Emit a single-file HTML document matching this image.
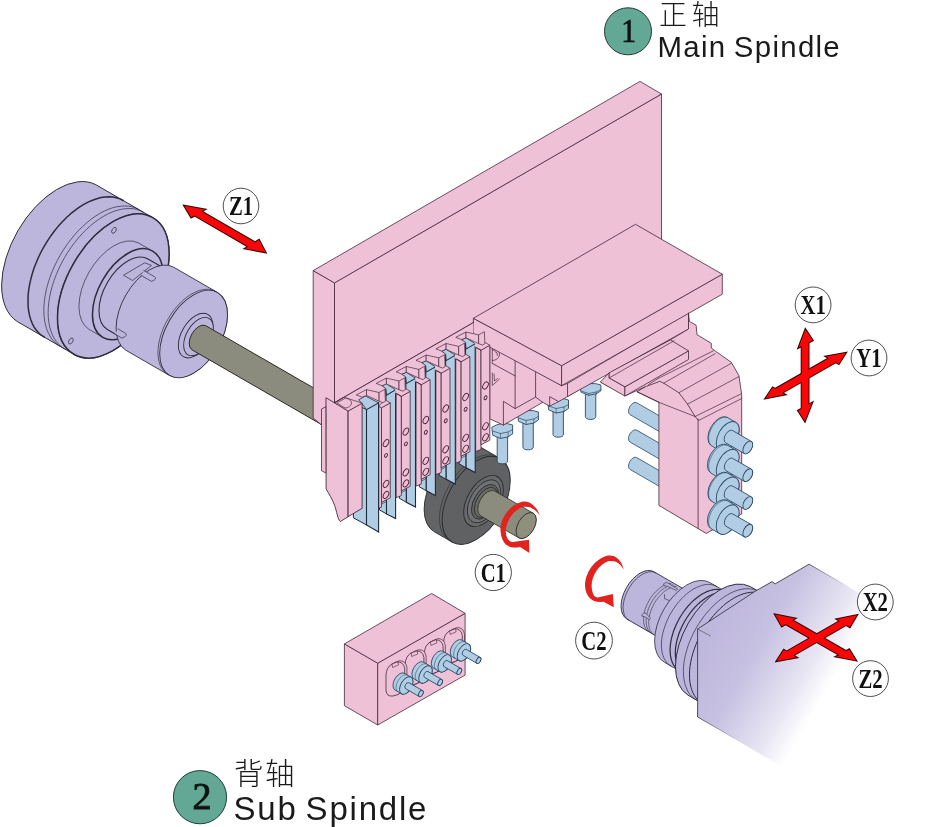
<!DOCTYPE html>
<html lang="zh">
<head>
<meta charset="utf-8">
<title>Main Spindle / Sub Spindle axis diagram</title>
<style>
html,body{margin:0;padding:0;background:#fff;}
body{width:946px;height:827px;overflow:hidden;position:relative;font-family:"Liberation Sans","Noto Sans CJK SC",sans-serif;}
svg{position:absolute;left:0;top:0;display:block;will-change:transform;}
.lbl{font-family:"Liberation Sans","Noto Sans CJK SC",sans-serif;fill:#1a1a1a;}
.cj{font-weight:300;}
.ax{font-family:"Liberation Serif","Noto Serif CJK SC",serif;font-weight:bold;fill:#111;}
.num{font-family:"Liberation Serif","Noto Serif CJK SC",serif;fill:#111;}
</style>
</head>
<body>
<svg width="946" height="827" viewBox="0 0 946 827">
<path d="M16.9 321.3 A78.9 45.6 120 0 1 95.8 184.7 L152.7 217.6 A78.9 45.6 120 0 1 73.8 354.2 Z" fill="#bdb6dc" stroke="#2e2b3d" stroke-width="1" stroke-linejoin="round" stroke-linecap="round" />
<ellipse cx="113.3" cy="285.9" rx="45.6" ry="78.9" transform="rotate(30 113.3 285.9)" fill="#bdb6dc" stroke="#2e2b3d" stroke-width="1" />
<path d="M44.3 337.2 L41.3 335.2 L38.6 332.8 L36.2 330 L34 326.8 L32.2 323.3 L30.7 319.4 L29.5 315.2 L28.6 310.7 L28.1 306 L28 301.1 L28.1 295.9 L28.6 290.6 L29.5 285.1 L30.7 279.6 L32.2 274 L34 268.3 L36.2 262.7 L38.6 257 L41.3 251.5 L44.3 246.1 L47.5 240.8 L51 235.7 L54.6 230.8 L58.4 226.1 L62.4 221.7 L66.5 217.5 L70.7 213.7 L75 210.3 L79.4 207.2 L83.8 204.4 L88.1 202.1 L92.5 200.2 L96.8 198.7 L101 197.6 L105.1 197 L109.1 196.8 L112.9 197.1 L116.5 197.8 L120 198.9 L123.2 200.5" fill="none" stroke="#2e2b3d" stroke-width="1.5" stroke-linejoin="round" stroke-linecap="round" />
<path d="M60.2 346.3 L57.2 344.3 L54.5 341.9 L52 339.1 L49.9 335.9 L48.1 332.4 L46.5 328.5 L45.4 324.4 L44.5 319.9 L44 315.2 L43.8 310.2 L44 305.1 L44.5 299.7 L45.4 294.3 L46.5 288.7 L48.1 283.1 L49.9 277.5 L52 271.8 L54.5 266.2 L57.2 260.7 L60.2 255.2 L63.4 249.9 L66.8 244.8 L70.5 239.9 L74.3 235.2 L78.3 230.8 L82.4 226.7 L86.6 222.9 L90.9 219.4 L95.2 216.3 L99.6 213.6 L104 211.2 L108.3 209.3 L112.6 207.8 L116.8 206.8 L121 206.2 L124.9 206 L128.8 206.2 L132.4 206.9 L135.8 208.1 L139.1 209.7" fill="none" stroke="#2e2b3d" stroke-width="0.7" stroke-linejoin="round" stroke-linecap="round" />
<path d="M64.5 348.8 L61.5 346.8 L58.8 344.4 L56.4 341.6 L54.2 338.4 L52.4 334.9 L50.9 331 L49.7 326.9 L48.8 322.4 L48.3 317.7 L48.1 312.7 L48.3 307.6 L48.8 302.2 L49.7 296.8 L50.9 291.2 L52.4 285.6 L54.2 280 L56.4 274.3 L58.8 268.7 L61.5 263.2 L64.5 257.7 L67.7 252.4 L71.1 247.3 L74.8 242.4 L78.6 237.7 L82.6 233.3 L86.7 229.2 L90.9 225.4 L95.2 221.9 L99.6 218.8 L103.9 216.1 L108.3 213.7 L112.7 211.8 L117 210.3 L121.2 209.3 L125.3 208.7 L129.3 208.5 L133.1 208.7 L136.7 209.4 L140.2 210.6 L143.4 212.2" fill="none" stroke="#2e2b3d" stroke-width="0.7" stroke-linejoin="round" stroke-linecap="round" />
<ellipse cx="113.3" cy="285.9" rx="45.6" ry="78.9" transform="rotate(30 113.3 285.9)" fill="#bdb6dc" stroke="#2e2b3d" stroke-width="1.5" />
<ellipse cx="114" cy="230.3" rx="1.9" ry="3.3" transform="rotate(30 114 230.3)" fill="#bdb6dc" stroke="#2e2b3d" stroke-width="0.7" />
<ellipse cx="70.9" cy="341" rx="1.9" ry="3.3" transform="rotate(30 70.9 341)" fill="#bdb6dc" stroke="#2e2b3d" stroke-width="0.7" />
<path d="M88.4 329 A49.8 28.8 120 0 1 138.2 242.8 L152.6 251.1 A49.8 28.8 120 0 1 102.8 337.3 Z" fill="#bdb6dc" stroke="#2e2b3d" stroke-width="0.7" stroke-linejoin="round" stroke-linecap="round" />
<ellipse cx="127.7" cy="294.2" rx="28.8" ry="49.8" transform="rotate(30 127.7 294.2)" fill="#bdb6dc" stroke="#2e2b3d" stroke-width="1.5" />
<path d="M107.4 329.4 A40.6 23.4 120 0 1 148 259 L169.6 271.5 A40.6 23.4 120 0 1 129 341.9 Z" fill="#bdb6dc" stroke="#2e2b3d" stroke-width="1.1" stroke-linejoin="round" stroke-linecap="round" />
<polygon points="123.5,275.2 144.7,262.8 151.5,265.4 132.6,280.5" fill="#bdb6dc" stroke="#2e2b3d" stroke-width="0.7" stroke-linejoin="miter" stroke-miterlimit="3" />
<path d="M125.5 350 A47.9 27.7 120 0 1 173.3 267 L217.5 292.5 A47.9 27.7 120 0 1 169.6 375.5 Z" fill="#bdb6dc" stroke="#2e2b3d" stroke-width="0.9" stroke-linejoin="round" stroke-linecap="round" />
<ellipse cx="193.6" cy="334" rx="27.7" ry="47.9" transform="rotate(30 193.6 334)" fill="#bdb6dc" stroke="#2e2b3d" stroke-width="0.9" />
<path d="M143.9 270.6 L154.3 276.6 Q158.1 278.8 151.5 281.4 L141.1 275.4" fill="#bdb6dc" stroke="#2e2b3d" stroke-width="0.7" stroke-linejoin="round" stroke-linecap="round" />
<path d="M118 328.9 L124.9 332.9 Q129.1 335.3 121.9 338.1 L115 334.1" fill="#bdb6dc" stroke="#2e2b3d" stroke-width="0.7" stroke-linejoin="round" stroke-linecap="round" />
<path d="M167.9 374.5 L166.1 373.3 L164.4 371.8 L163 370.1 L161.7 368.2 L160.5 366 L159.6 363.7 L158.9 361.1 L158.4 358.4 L158.1 355.6 L158 352.6 L158.1 349.4 L158.4 346.2 L158.9 342.9 L159.6 339.5 L160.5 336.1 L161.7 332.7 L163 329.2 L164.4 325.8 L166.1 322.5 L167.9 319.2 L169.8 316 L171.9 312.9 L174.1 309.9 L176.5 307 L178.9 304.4 L181.4 301.8 L183.9 299.5 L186.5 297.4 L189.2 295.5 L191.8 293.9 L194.5 292.5 L197.1 291.3 L199.7 290.4 L202.3 289.8 L204.8 289.4 L207.2 289.3 L209.5 289.4 L211.7 289.9 L213.8 290.6 L215.8 291.5" fill="none" stroke="#2e2b3d" stroke-width="0.7" stroke-linejoin="round" stroke-linecap="round" />
<ellipse cx="195.6" cy="335.6" rx="14.1" ry="24.4" transform="rotate(30 195.6 335.6)" fill="#bdb6dc" stroke="#2e2b3d" stroke-width="0.9" />
<ellipse cx="198.5" cy="336.6" rx="12.1" ry="21" transform="rotate(30 198.5 336.6)" fill="#bdb6dc" stroke="#2e2b3d" stroke-width="0.9" />
<path d="M191.4 349.4 A13.9 8 120 0 1 205.2 325.4 L335.2 400.4 A13.9 8 120 0 1 321.3 424.4 Z" fill="#8c8c7e" stroke="#2a2a22" stroke-width="1.0" stroke-linejoin="round" stroke-linecap="round" />
<polygon points="313.2,270.6 334.5,282.9 334.5,403 321,424.5 313.2,418" fill="#efc1d7" stroke="#45283a" stroke-width="0.8" stroke-linejoin="miter" stroke-miterlimit="3" />
<polygon points="334.5,282.9 661.5,94 661.5,240 490,340 490,313 334.5,402.7" fill="#efc1d7" stroke="#45283a" stroke-width="0.8" stroke-linejoin="miter" stroke-miterlimit="3" />
<polygon points="313.2,270.6 640,81.4 661.5,94 334.5,282.9" fill="#efc1d7" stroke="#45283a" stroke-width="0.8" stroke-linejoin="miter" stroke-miterlimit="3" />
<path d="M434 531.6 A48.2 27.8 120 0 1 482.2 448.1 L500.3 458.6 A48.2 27.8 120 0 1 452.1 542 Z" fill="#636466" stroke="#2a2a2c" stroke-width="0.9" stroke-linejoin="round" stroke-linecap="round" />
<ellipse cx="476.2" cy="500.3" rx="27.8" ry="48.2" transform="rotate(30 476.2 500.3)" fill="#606163" stroke="#2a2a2c" stroke-width="0.9" />
<path d="M445.7 537.5 L444.4 535.9 L443.2 534.2 L442.2 532.3 L441.4 530.2 L440.7 528 L440.1 525.6 L439.8 523.1 L439.6 520.5 L439.5 517.8 L439.6 515 L439.9 512.1 L440.4 509.1 L441 506.1 L441.8 503.1 L442.7 500 L443.8 496.9 L445 493.9 L446.4 490.8 L447.9 487.8 L449.5 484.9 L451.2 482 L453.1 479.2 L455 476.5 L457.1 473.9 L459.2 471.4 L461.4 469.1 L463.6 466.9 L465.9 464.9 L468.3 463 L470.6 461.3 L473 459.8 L475.4 458.5 L477.8 457.3 L480.1 456.4 L482.4 455.7 L484.7 455.2 L486.9 454.9 L489.1 454.8 L491.2 454.9 L493.2 455.3" fill="none" stroke="#2a2a2a" stroke-width="0.6" stroke-linejoin="round" stroke-linecap="round" />
<ellipse cx="483.5" cy="501" rx="16.2" ry="28" transform="rotate(30 483.5 501)" fill="#68696b" stroke="#2a2a2c" stroke-width="0.9" />
<ellipse cx="484" cy="501.3" rx="13.6" ry="23.5" transform="rotate(30 484 501.3)" fill="#707173" stroke="#2a2a2c" stroke-width="0.8" />
<ellipse cx="485" cy="501.8" rx="11" ry="19" transform="rotate(30 485 501.8)" fill="#636466" stroke="#2a2a2c" stroke-width="0.8" />
<ellipse cx="486" cy="502.4" rx="9.5" ry="16.5" transform="rotate(30 486 502.4)" fill="#6a6a66" stroke="#2a2a2c" stroke-width="0.8" />
<path d="M480.4 515.7 A14.3 8.3 120 0 1 494.6 490.9 L533.4 513.3 A14.3 8.3 120 0 1 519.1 538 Z" fill="#8c8c7e" stroke="#2a2a22" stroke-width="0.8" stroke-linejoin="round" stroke-linecap="round" />
<ellipse cx="526.2" cy="525.6" rx="8.3" ry="14.3" transform="rotate(30 526.2 525.6)" fill="#8f8f7e" stroke="#2a2a22" stroke-width="0.8" />
<path d="M497.2 436.4 L497.2 460.8 Q497.2 463.8 502.4 463.8 Q507.6 463.8 507.6 460.8 L507.6 436.4 Z" fill="#b0cde3" stroke="#2b4a66" stroke-width="0.9" stroke-linejoin="round" stroke-linecap="round" />
<path d="M492.1 427 Q502.4 421 512.6 425 L512.6 433.9 L508.1 436.9 L500.4 438.4 L493.1 435.4 Z" fill="#b0cde3" stroke="#2b4a66" stroke-width="0.9" stroke-linejoin="round" stroke-linecap="round" />
<polyline points="492.6,431 500.4,433.5 508.1,432 512.6,429.5" fill="none" stroke="#2b4a66" stroke-width="0.7" stroke-linejoin="round" stroke-linecap="round" />
<polyline points="500.4,433.5 500.4,438.4" fill="none" stroke="#2b4a66" stroke-width="0.6" stroke-linejoin="round" stroke-linecap="round" />
<polyline points="508.1,432 508.1,436.9" fill="none" stroke="#2b4a66" stroke-width="0.6" stroke-linejoin="round" stroke-linecap="round" />
<path d="M522.9 422.5 L522.9 446.8 Q522.9 449.8 528.1 449.8 Q533.3 449.8 533.3 446.8 L533.3 422.5 Z" fill="#b0cde3" stroke="#2b4a66" stroke-width="0.9" stroke-linejoin="round" stroke-linecap="round" />
<path d="M517.9 414 Q528.1 408 538.4 412 L538.4 420 L533.9 423 L526.1 424.5 L518.9 421.5 Z" fill="#b0cde3" stroke="#2b4a66" stroke-width="0.9" stroke-linejoin="round" stroke-linecap="round" />
<polyline points="518.4,418 526.1,420.5 533.9,419 538.4,416.5" fill="none" stroke="#2b4a66" stroke-width="0.7" stroke-linejoin="round" stroke-linecap="round" />
<polyline points="526.1,420.5 526.1,424.5" fill="none" stroke="#2b4a66" stroke-width="0.6" stroke-linejoin="round" stroke-linecap="round" />
<polyline points="533.9,419 533.9,423" fill="none" stroke="#2b4a66" stroke-width="0.6" stroke-linejoin="round" stroke-linecap="round" />
<path d="M553 411 L553 434.2 Q553 437.2 558.2 437.2 Q563.4 437.2 563.4 434.2 L563.4 411 Z" fill="#b0cde3" stroke="#2b4a66" stroke-width="0.9" stroke-linejoin="round" stroke-linecap="round" />
<path d="M548 402 Q558.2 396 568.5 400 L568.5 408.5 L564 411.5 L556.2 413 L549 410 Z" fill="#b0cde3" stroke="#2b4a66" stroke-width="0.9" stroke-linejoin="round" stroke-linecap="round" />
<polyline points="548.5,406 556.2,408.5 564,407 568.5,404.5" fill="none" stroke="#2b4a66" stroke-width="0.7" stroke-linejoin="round" stroke-linecap="round" />
<polyline points="556.2,408.5 556.2,413" fill="none" stroke="#2b4a66" stroke-width="0.6" stroke-linejoin="round" stroke-linecap="round" />
<polyline points="564,407 564,411.5" fill="none" stroke="#2b4a66" stroke-width="0.6" stroke-linejoin="round" stroke-linecap="round" />
<path d="M585.4 393.3 L585.4 416.4 Q585.4 419.4 590.6 419.4 Q595.8 419.4 595.8 416.4 L595.8 393.3 Z" fill="#b0cde3" stroke="#2b4a66" stroke-width="0.9" stroke-linejoin="round" stroke-linecap="round" />
<path d="M580.4 387 Q590.6 381 600.9 385 L600.9 390.8 L596.4 393.8 L588.6 395.3 L581.4 392.3 Z" fill="#b0cde3" stroke="#2b4a66" stroke-width="0.9" stroke-linejoin="round" stroke-linecap="round" />
<polyline points="580.9,391 588.6,393.5 596.4,392 600.9,389.5" fill="none" stroke="#2b4a66" stroke-width="0.7" stroke-linejoin="round" stroke-linecap="round" />
<polyline points="588.6,393.5 588.6,395.3" fill="none" stroke="#2b4a66" stroke-width="0.6" stroke-linejoin="round" stroke-linecap="round" />
<polyline points="596.4,392 596.4,393.8" fill="none" stroke="#2b4a66" stroke-width="0.6" stroke-linejoin="round" stroke-linecap="round" />
<polygon points="489.7,345.1 561.6,385.6 568.1,383.2 580.1,378 580.1,389 567.5,396.6 558.6,401.6 549.7,406.1 542.7,402.3 503.4,425.1 489.7,418.8" fill="#efc1d7" stroke="#45283a" stroke-width="0.8" stroke-linejoin="miter" stroke-miterlimit="3" />
<polyline points="515.1,359.4 515.1,408.6" fill="none" stroke="#45283a" stroke-width="0.8" stroke-linejoin="round" stroke-linecap="round" />
<polyline points="492.1,363.3 515.1,375.9" fill="none" stroke="#45283a" stroke-width="0.8" stroke-linejoin="round" stroke-linecap="round" />
<polyline points="503.4,425.1 503.4,401.3 515.1,408.6 535.6,397.1 535.6,371.1" fill="none" stroke="#45283a" stroke-width="0.8" stroke-linejoin="round" stroke-linecap="round" />
<polyline points="535.6,397.1 542.7,402.3" fill="none" stroke="#45283a" stroke-width="0.8" stroke-linejoin="round" stroke-linecap="round" />
<polyline points="549.7,406.1 549.7,396.6 558.6,401.6" fill="none" stroke="#45283a" stroke-width="0.8" stroke-linejoin="round" stroke-linecap="round" />
<path d="M492.3 348 L492.3 362.5 M492.3 350 Q500 349 499.5 355 Q498.5 360 492.6 360.5 M495 351.5 Q498 352 497.5 355.5" fill="none" stroke="#45283a" stroke-width="0.7" stroke-linejoin="round" stroke-linecap="round" />
<path d="M492.3 373 L492.3 385.5 L499.5 379 M494 374 L494.5 381 L497.5 378.5" fill="none" stroke="#45283a" stroke-width="0.7" stroke-linejoin="round" stroke-linecap="round" />
<polygon points="567.5,383.4 688.5,312.8 688.5,329 567.5,396.6" fill="#efc1d7" stroke="#45283a" stroke-width="0.8" stroke-linejoin="miter" stroke-miterlimit="3" />
<polygon points="473.4,318.3 561.6,365.7 561.6,385.7 473.4,338.3" fill="#efc1d7" stroke="#45283a" stroke-width="0.8" stroke-linejoin="miter" stroke-miterlimit="3" />
<polygon points="561.6,365.7 722.3,274.2 722.3,294.2 561.6,385.7" fill="#efc1d7" stroke="#45283a" stroke-width="0.8" stroke-linejoin="miter" stroke-miterlimit="3" />
<polygon points="473.4,318.3 635.5,224.3 722.3,274.2 561.6,365.7" fill="#efc1d7" stroke="#45283a" stroke-width="0.8" stroke-linejoin="miter" stroke-miterlimit="3" />
<path d="M629.8 414.5 A6.8 3.9 120 0 1 636.6 402.7 L671.2 422.7 A6.8 3.9 120 0 1 664.4 434.5 Z" fill="#b0cde3" stroke="#2b4a66" stroke-width="0.8" stroke-linejoin="round" stroke-linecap="round" />
<path d="M629.8 441.9 A6.8 3.9 120 0 1 636.6 430.1 L671.2 450.1 A6.8 3.9 120 0 1 664.4 461.9 Z" fill="#b0cde3" stroke="#2b4a66" stroke-width="0.8" stroke-linejoin="round" stroke-linecap="round" />
<path d="M629.8 469.3 A6.8 3.9 120 0 1 636.6 457.5 L671.2 477.5 A6.8 3.9 120 0 1 664.4 489.3 Z" fill="#b0cde3" stroke="#2b4a66" stroke-width="0.8" stroke-linejoin="round" stroke-linecap="round" />
<polygon points="688.5,312.8 689.4,321.4 696.1,325.2 697,334.7 711.3,343.3 711.3,348 715.1,350.9 731.3,362.3 738.9,375.6 741.7,394.7 741.7,514 706.2,533.4 658.9,505.4 658.9,402.3 637.1,391.8 644.7,387 625.7,395.6 600.9,382.3 612,372 670.4,339.9 688.5,329" fill="#efc1d7" stroke="#45283a" stroke-width="0.8" stroke-linejoin="miter" stroke-miterlimit="3" />
<polygon points="600.3,382 609.2,372.8 609.2,377.9 624.9,386.8 624.9,396.1" fill="#efc1d7" stroke="#45283a" stroke-width="0.8" stroke-linejoin="miter" stroke-miterlimit="3" />
<polygon points="624.9,386.8 688.5,350.9 688.5,359.5 624.9,396.1" fill="#efc1d7" stroke="#45283a" stroke-width="0.8" stroke-linejoin="miter" stroke-miterlimit="3" />
<polygon points="609.2,372.8 670.4,339.9 688.5,350.9 624.9,386.8 609.2,377.9" fill="#efc1d7" stroke="#45283a" stroke-width="0.8" stroke-linejoin="miter" stroke-miterlimit="3" />
<polyline points="609.2,377.9 674,340.8" fill="none" stroke="#45283a" stroke-width="0.7" stroke-linejoin="round" stroke-linecap="round" />
<polyline points="658,378.5 713.2,350.9" fill="none" stroke="#45283a" stroke-width="0.7" stroke-linejoin="round" stroke-linecap="round" />
<polyline points="663.7,383.2 715.1,353.7" fill="none" stroke="#45283a" stroke-width="0.7" stroke-linejoin="round" stroke-linecap="round" />
<polyline points="678.9,392.7 731.3,363.3" fill="none" stroke="#45283a" stroke-width="0.7" stroke-linejoin="round" stroke-linecap="round" />
<polyline points="687.5,404.2 738.9,376.6" fill="none" stroke="#45283a" stroke-width="0.7" stroke-linejoin="round" stroke-linecap="round" />
<polyline points="695.1,416.5 741.4,393.7" fill="none" stroke="#45283a" stroke-width="0.7" stroke-linejoin="round" stroke-linecap="round" />
<polyline points="698.9,420.3 741.7,398.5" fill="none" stroke="#45283a" stroke-width="0.7" stroke-linejoin="round" stroke-linecap="round" />
<polyline points="637.1,391.8 658.9,402.3" fill="none" stroke="#45283a" stroke-width="0.8" stroke-linejoin="round" stroke-linecap="round" />
<polyline points="644.7,387 659.9,381.3 663.7,383.2 678.9,392.7 687.5,404.2 695.1,416.5 698.1,420" fill="none" stroke="#45283a" stroke-width="0.8" stroke-linejoin="round" stroke-linecap="round" />
<polyline points="658.9,402.3 695.1,416.5" fill="none" stroke="#45283a" stroke-width="0.7" stroke-linejoin="round" stroke-linecap="round" />
<polyline points="648.5,384.6 658,378.5" fill="none" stroke="#45283a" stroke-width="0.7" stroke-linejoin="round" stroke-linecap="round" />
<polyline points="698.1,419 698.1,528.5" fill="none" stroke="#45283a" stroke-width="0.8" stroke-linejoin="round" stroke-linecap="round" />
<path d="M710.7 445.2 A16.2 9.4 120 0 1 726.9 417.2 L735.8 422.3 A16.2 9.4 120 0 1 719.6 450.4 Z" fill="#b0cde3" stroke="#2b4a66" stroke-width="0.9" stroke-linejoin="round" stroke-linecap="round" />
<ellipse cx="727.7" cy="436.3" rx="9.4" ry="16.2" transform="rotate(30 727.7 436.3)" fill="#b0cde3" stroke="#2b4a66" stroke-width="0.9" />
<path d="M710.7 445 L710.3 444.4 L709.9 443.8 L709.6 443.2 L709.3 442.5 L709 441.8 L708.9 441 L708.7 440.1 L708.7 439.2 L708.6 438.3 L708.7 437.4 L708.8 436.4 L708.9 435.4 L709.1 434.4 L709.4 433.4 L709.7 432.4 L710.1 431.3 L710.5 430.3 L711 429.3 L711.5 428.3 L712 427.3 L712.6 426.3 L713.2 425.4 L713.9 424.5 L714.5 423.6 L715.3 422.8 L716 422 L716.7 421.2 L717.5 420.5 L718.3 419.9 L719.1 419.3 L719.9 418.8 L720.7 418.4 L721.5 418 L722.3 417.7 L723.1 417.5 L723.8 417.3 L724.6 417.2 L725.3 417.2 L726 417.2 L726.7 417.3" fill="none" stroke="#2b4a66" stroke-width="0.6" stroke-linejoin="round" stroke-linecap="round" />
<path d="M725.5 442.7 A7 4 120 0 1 732.5 430.5 L751.3 441.4 A7 4 120 0 1 744.3 453.5 Z" fill="#b0cde3" stroke="#2b4a66" stroke-width="0.9" stroke-linejoin="round" stroke-linecap="round" />
<ellipse cx="747.8" cy="447.5" rx="4" ry="7" transform="rotate(30 747.8 447.5)" fill="#b0cde3" stroke="#2b4a66" stroke-width="0.9" />
<path d="M710.7 473 A16.2 9.4 120 0 1 726.9 444.9 L735.8 450.1 A16.2 9.4 120 0 1 719.6 478.1 Z" fill="#b0cde3" stroke="#2b4a66" stroke-width="0.9" stroke-linejoin="round" stroke-linecap="round" />
<ellipse cx="727.7" cy="464.1" rx="9.4" ry="16.2" transform="rotate(30 727.7 464.1)" fill="#b0cde3" stroke="#2b4a66" stroke-width="0.9" />
<path d="M710.7 472.7 L710.3 472.2 L709.9 471.6 L709.6 471 L709.3 470.3 L709 469.5 L708.9 468.7 L708.7 467.9 L708.7 467 L708.6 466.1 L708.7 465.1 L708.8 464.2 L708.9 463.2 L709.1 462.2 L709.4 461.1 L709.7 460.1 L710.1 459.1 L710.5 458 L711 457 L711.5 456 L712 455 L712.6 454.1 L713.2 453.1 L713.9 452.2 L714.5 451.3 L715.3 450.5 L716 449.7 L716.7 449 L717.5 448.3 L718.3 447.7 L719.1 447.1 L719.9 446.6 L720.7 446.1 L721.5 445.8 L722.3 445.5 L723.1 445.2 L723.8 445 L724.6 444.9 L725.3 444.9 L726 445 L726.7 445.1" fill="none" stroke="#2b4a66" stroke-width="0.6" stroke-linejoin="round" stroke-linecap="round" />
<path d="M725.5 470.4 A7 4 120 0 1 732.5 458.3 L751.3 469.1 A7 4 120 0 1 744.3 481.3 Z" fill="#b0cde3" stroke="#2b4a66" stroke-width="0.9" stroke-linejoin="round" stroke-linecap="round" />
<ellipse cx="747.8" cy="475.2" rx="4" ry="7" transform="rotate(30 747.8 475.2)" fill="#b0cde3" stroke="#2b4a66" stroke-width="0.9" />
<path d="M710.7 500.7 A16.2 9.4 120 0 1 726.9 472.7 L735.8 477.8 A16.2 9.4 120 0 1 719.6 505.9 Z" fill="#b0cde3" stroke="#2b4a66" stroke-width="0.9" stroke-linejoin="round" stroke-linecap="round" />
<ellipse cx="727.7" cy="491.8" rx="9.4" ry="16.2" transform="rotate(30 727.7 491.8)" fill="#b0cde3" stroke="#2b4a66" stroke-width="0.9" />
<path d="M710.7 500.5 L710.3 499.9 L709.9 499.3 L709.6 498.7 L709.3 498 L709 497.3 L708.9 496.5 L708.7 495.6 L708.7 494.7 L708.6 493.8 L708.7 492.9 L708.8 491.9 L708.9 490.9 L709.1 489.9 L709.4 488.9 L709.7 487.9 L710.1 486.8 L710.5 485.8 L711 484.8 L711.5 483.8 L712 482.8 L712.6 481.8 L713.2 480.9 L713.9 480 L714.5 479.1 L715.3 478.3 L716 477.5 L716.7 476.7 L717.5 476 L718.3 475.4 L719.1 474.8 L719.9 474.3 L720.7 473.9 L721.5 473.5 L722.3 473.2 L723.1 473 L723.8 472.8 L724.6 472.7 L725.3 472.7 L726 472.7 L726.7 472.8" fill="none" stroke="#2b4a66" stroke-width="0.6" stroke-linejoin="round" stroke-linecap="round" />
<path d="M725.5 498.2 A7 4 120 0 1 732.5 486 L751.3 496.9 A7 4 120 0 1 744.3 509 Z" fill="#b0cde3" stroke="#2b4a66" stroke-width="0.9" stroke-linejoin="round" stroke-linecap="round" />
<ellipse cx="747.8" cy="503" rx="4" ry="7" transform="rotate(30 747.8 503)" fill="#b0cde3" stroke="#2b4a66" stroke-width="0.9" />
<path d="M710.7 528.5 A16.2 9.4 120 0 1 726.9 500.4 L735.8 505.6 A16.2 9.4 120 0 1 719.6 533.6 Z" fill="#b0cde3" stroke="#2b4a66" stroke-width="0.9" stroke-linejoin="round" stroke-linecap="round" />
<ellipse cx="727.7" cy="519.6" rx="9.4" ry="16.2" transform="rotate(30 727.7 519.6)" fill="#b0cde3" stroke="#2b4a66" stroke-width="0.9" />
<path d="M710.7 528.2 L710.3 527.7 L709.9 527.1 L709.6 526.5 L709.3 525.8 L709 525 L708.9 524.2 L708.7 523.4 L708.7 522.5 L708.6 521.6 L708.7 520.6 L708.8 519.7 L708.9 518.7 L709.1 517.7 L709.4 516.6 L709.7 515.6 L710.1 514.6 L710.5 513.5 L711 512.5 L711.5 511.5 L712 510.5 L712.6 509.6 L713.2 508.6 L713.9 507.7 L714.5 506.8 L715.3 506 L716 505.2 L716.7 504.5 L717.5 503.8 L718.3 503.2 L719.1 502.6 L719.9 502.1 L720.7 501.6 L721.5 501.3 L722.3 501 L723.1 500.7 L723.8 500.5 L724.6 500.4 L725.3 500.4 L726 500.5 L726.7 500.6" fill="none" stroke="#2b4a66" stroke-width="0.6" stroke-linejoin="round" stroke-linecap="round" />
<path d="M725.5 525.9 A7 4 120 0 1 732.5 513.8 L751.3 524.6 A7 4 120 0 1 744.3 536.8 Z" fill="#b0cde3" stroke="#2b4a66" stroke-width="0.9" stroke-linejoin="round" stroke-linecap="round" />
<ellipse cx="747.8" cy="530.7" rx="4" ry="7" transform="rotate(30 747.8 530.7)" fill="#b0cde3" stroke="#2b4a66" stroke-width="0.9" />
<polygon points="334.5,402.7 473.4,322.6 473.4,345 366,415 348.1,411" fill="#efc1d7" stroke="none" stroke-width="0.8" stroke-linejoin="miter" stroke-miterlimit="3" />
<polygon points="475.7,347.2 481,350.2 481,449.5 475.7,451.6" fill="#efc1d7" stroke="#45283a" stroke-width="0.8" stroke-linejoin="miter" stroke-miterlimit="3" />
<polygon points="481,350.2 489.8,345.2 489.8,440.2 481,444.8" fill="#efc1d7" stroke="#45283a" stroke-width="0.8" stroke-linejoin="miter" stroke-miterlimit="3" />
<polygon points="475.7,347.2 481,350.2 489.8,345.2 484.5,342.2" fill="#efc1d7" stroke="#45283a" stroke-width="0.7" stroke-linejoin="miter" stroke-miterlimit="3" />
<ellipse cx="485.5" cy="385.5" rx="2.3" ry="3.9" transform="rotate(30 485.5 385.5)" fill="#efc1d7" stroke="#4a1f35" stroke-width="0.9"/>
<ellipse cx="485.5" cy="397.8" rx="1.3" ry="2.1" transform="rotate(30 485.5 397.8)" fill="#efc1d7" stroke="#4a1f35" stroke-width="0.9"/>
<ellipse cx="485.5" cy="426.3" rx="2.3" ry="3.9" transform="rotate(30 485.5 426.3)" fill="#efc1d7" stroke="#4a1f35" stroke-width="0.9"/>
<ellipse cx="485.5" cy="437.3" rx="2.3" ry="3.9" transform="rotate(30 485.5 437.3)" fill="#efc1d7" stroke="#4a1f35" stroke-width="0.9"/>
<polygon points="459.1,432 466.1,436 466.1,467.8 459.1,463.8" fill="#b0cde3" stroke="#1c2c3c" stroke-width="1.0" stroke-linejoin="miter" stroke-miterlimit="3" />
<polygon points="465.5,342.5 466.1,348.9 475.2,343.6 475.2,472.5 466.1,467.8" fill="#b0cde3" stroke="#1c2c3c" stroke-width="1.1" stroke-linejoin="miter" stroke-miterlimit="3" />
<polygon points="461.6,339.7 466,337.8 475.2,343.6 466.1,348.9 465.5,342.5" fill="#b0cde3" stroke="#1c2c3c" stroke-width="0.8" stroke-linejoin="miter" stroke-miterlimit="3" />
<polyline points="461.1,456.2 466.1,453.3" fill="none" stroke="#1c2c3c" stroke-width="0.6" stroke-linejoin="round" stroke-linecap="round" />
<polyline points="461.1,458.2 466.1,455.3" fill="none" stroke="#1c2c3c" stroke-width="0.6" stroke-linejoin="round" stroke-linecap="round" />
<polygon points="474.8,343 478.6,343.2 482.5,345.1 476,347.5 474.8,347" fill="#efc1d7" stroke="none" stroke-width="0.8" stroke-linejoin="miter" stroke-miterlimit="3" />
<polyline points="475.7,347.2 481,350.2" fill="none" stroke="#45283a" stroke-width="0.7" stroke-linejoin="round" stroke-linecap="round" />
<polygon points="455.8,337.3 466,332 466,337.8 461.6,339.6" fill="#efc1d7" stroke="#45283a" stroke-width="0.7" stroke-linejoin="miter" stroke-miterlimit="3" />
<polygon points="466,332 478.6,334.9 478.6,343.6 466,337.8" fill="#efc1d7" stroke="#45283a" stroke-width="0.7" stroke-linejoin="miter" stroke-miterlimit="3" />
<polygon points="478.6,334.9 484.4,331.7 484.9,343.6 482.5,345.1 478.6,343.6" fill="#efc1d7" stroke="#45283a" stroke-width="0.7" stroke-linejoin="miter" stroke-miterlimit="3" />
<polygon points="455.8,358.7 461.1,361.7 461.1,461 455.8,463.1" fill="#efc1d7" stroke="#45283a" stroke-width="0.8" stroke-linejoin="miter" stroke-miterlimit="3" />
<polygon points="461.1,361.7 469.9,356.7 469.9,451.7 461.1,456.3" fill="#efc1d7" stroke="#45283a" stroke-width="0.8" stroke-linejoin="miter" stroke-miterlimit="3" />
<polygon points="455.8,358.7 461.1,361.7 469.9,356.7 464.6,353.7" fill="#efc1d7" stroke="#45283a" stroke-width="0.7" stroke-linejoin="miter" stroke-miterlimit="3" />
<ellipse cx="465.6" cy="397" rx="2.3" ry="3.9" transform="rotate(30 465.6 397)" fill="#efc1d7" stroke="#4a1f35" stroke-width="0.9"/>
<ellipse cx="465.6" cy="409.3" rx="1.3" ry="2.1" transform="rotate(30 465.6 409.3)" fill="#efc1d7" stroke="#4a1f35" stroke-width="0.9"/>
<ellipse cx="465.6" cy="437.8" rx="2.3" ry="3.9" transform="rotate(30 465.6 437.8)" fill="#efc1d7" stroke="#4a1f35" stroke-width="0.9"/>
<ellipse cx="465.6" cy="448.8" rx="2.3" ry="3.9" transform="rotate(30 465.6 448.8)" fill="#efc1d7" stroke="#4a1f35" stroke-width="0.9"/>
<polygon points="439.2,443.5 446.2,447.5 446.2,479.3 439.2,475.3" fill="#b0cde3" stroke="#1c2c3c" stroke-width="1.0" stroke-linejoin="miter" stroke-miterlimit="3" />
<polygon points="445.6,354 446.2,360.4 455.3,355.1 455.3,484 446.2,479.3" fill="#b0cde3" stroke="#1c2c3c" stroke-width="1.1" stroke-linejoin="miter" stroke-miterlimit="3" />
<polygon points="441.7,351.2 446.1,349.3 455.3,355.1 446.2,360.4 445.6,354" fill="#b0cde3" stroke="#1c2c3c" stroke-width="0.8" stroke-linejoin="miter" stroke-miterlimit="3" />
<polyline points="441.2,467.7 446.2,464.8" fill="none" stroke="#1c2c3c" stroke-width="0.6" stroke-linejoin="round" stroke-linecap="round" />
<polyline points="441.2,469.7 446.2,466.8" fill="none" stroke="#1c2c3c" stroke-width="0.6" stroke-linejoin="round" stroke-linecap="round" />
<polygon points="454.9,354.5 458.7,354.7 462.6,356.6 456.1,359 454.9,358.5" fill="#efc1d7" stroke="none" stroke-width="0.8" stroke-linejoin="miter" stroke-miterlimit="3" />
<polyline points="455.8,358.7 461.1,361.7" fill="none" stroke="#45283a" stroke-width="0.7" stroke-linejoin="round" stroke-linecap="round" />
<polygon points="435.9,348.8 446.1,343.5 446.1,349.3 441.7,351.1" fill="#efc1d7" stroke="#45283a" stroke-width="0.7" stroke-linejoin="miter" stroke-miterlimit="3" />
<polygon points="446.1,343.5 458.7,346.4 458.7,355.1 446.1,349.3" fill="#efc1d7" stroke="#45283a" stroke-width="0.7" stroke-linejoin="miter" stroke-miterlimit="3" />
<polygon points="458.7,346.4 464.5,343.2 465,355.1 462.6,356.6 458.7,355.1" fill="#efc1d7" stroke="#45283a" stroke-width="0.7" stroke-linejoin="miter" stroke-miterlimit="3" />
<polygon points="435.9,370.2 441.2,373.2 441.2,472.5 435.9,474.6" fill="#efc1d7" stroke="#45283a" stroke-width="0.8" stroke-linejoin="miter" stroke-miterlimit="3" />
<polygon points="441.2,373.2 450,368.2 450,463.2 441.2,467.8" fill="#efc1d7" stroke="#45283a" stroke-width="0.8" stroke-linejoin="miter" stroke-miterlimit="3" />
<polygon points="435.9,370.2 441.2,373.2 450,368.2 444.7,365.2" fill="#efc1d7" stroke="#45283a" stroke-width="0.7" stroke-linejoin="miter" stroke-miterlimit="3" />
<ellipse cx="445.7" cy="408.5" rx="2.3" ry="3.9" transform="rotate(30 445.7 408.5)" fill="#efc1d7" stroke="#4a1f35" stroke-width="0.9"/>
<ellipse cx="445.7" cy="420.8" rx="1.3" ry="2.1" transform="rotate(30 445.7 420.8)" fill="#efc1d7" stroke="#4a1f35" stroke-width="0.9"/>
<ellipse cx="445.7" cy="449.3" rx="2.3" ry="3.9" transform="rotate(30 445.7 449.3)" fill="#efc1d7" stroke="#4a1f35" stroke-width="0.9"/>
<ellipse cx="445.7" cy="460.3" rx="2.3" ry="3.9" transform="rotate(30 445.7 460.3)" fill="#efc1d7" stroke="#4a1f35" stroke-width="0.9"/>
<polygon points="419.3,455 426.3,459 426.3,490.8 419.3,486.8" fill="#b0cde3" stroke="#1c2c3c" stroke-width="1.0" stroke-linejoin="miter" stroke-miterlimit="3" />
<polygon points="425.7,365.5 426.3,371.9 435.4,366.7 435.4,495.5 426.3,490.8" fill="#b0cde3" stroke="#1c2c3c" stroke-width="1.1" stroke-linejoin="miter" stroke-miterlimit="3" />
<polygon points="421.8,362.7 426.2,360.8 435.4,366.7 426.3,371.9 425.7,365.5" fill="#b0cde3" stroke="#1c2c3c" stroke-width="0.8" stroke-linejoin="miter" stroke-miterlimit="3" />
<polyline points="421.3,479.2 426.3,476.3" fill="none" stroke="#1c2c3c" stroke-width="0.6" stroke-linejoin="round" stroke-linecap="round" />
<polyline points="421.3,481.2 426.3,478.3" fill="none" stroke="#1c2c3c" stroke-width="0.6" stroke-linejoin="round" stroke-linecap="round" />
<polygon points="435,366 438.8,366.2 442.7,368.1 436.2,370.5 435,370" fill="#efc1d7" stroke="none" stroke-width="0.8" stroke-linejoin="miter" stroke-miterlimit="3" />
<polyline points="435.9,370.2 441.2,373.2" fill="none" stroke="#45283a" stroke-width="0.7" stroke-linejoin="round" stroke-linecap="round" />
<polygon points="416,360.3 426.2,355 426.2,360.8 421.8,362.6" fill="#efc1d7" stroke="#45283a" stroke-width="0.7" stroke-linejoin="miter" stroke-miterlimit="3" />
<polygon points="426.2,355 438.8,357.9 438.8,366.6 426.2,360.8" fill="#efc1d7" stroke="#45283a" stroke-width="0.7" stroke-linejoin="miter" stroke-miterlimit="3" />
<polygon points="438.8,357.9 444.6,354.7 445.1,366.6 442.7,368.1 438.8,366.6" fill="#efc1d7" stroke="#45283a" stroke-width="0.7" stroke-linejoin="miter" stroke-miterlimit="3" />
<polygon points="416,381.7 421.3,384.7 421.3,484 416,486.1" fill="#efc1d7" stroke="#45283a" stroke-width="0.8" stroke-linejoin="miter" stroke-miterlimit="3" />
<polygon points="421.3,384.7 430.1,379.7 430.1,474.7 421.3,479.3" fill="#efc1d7" stroke="#45283a" stroke-width="0.8" stroke-linejoin="miter" stroke-miterlimit="3" />
<polygon points="416,381.7 421.3,384.7 430.1,379.7 424.8,376.7" fill="#efc1d7" stroke="#45283a" stroke-width="0.7" stroke-linejoin="miter" stroke-miterlimit="3" />
<ellipse cx="425.8" cy="420" rx="2.3" ry="3.9" transform="rotate(30 425.8 420)" fill="#efc1d7" stroke="#4a1f35" stroke-width="0.9"/>
<ellipse cx="425.8" cy="432.3" rx="1.3" ry="2.1" transform="rotate(30 425.8 432.3)" fill="#efc1d7" stroke="#4a1f35" stroke-width="0.9"/>
<ellipse cx="425.8" cy="460.8" rx="2.3" ry="3.9" transform="rotate(30 425.8 460.8)" fill="#efc1d7" stroke="#4a1f35" stroke-width="0.9"/>
<ellipse cx="425.8" cy="471.8" rx="2.3" ry="3.9" transform="rotate(30 425.8 471.8)" fill="#efc1d7" stroke="#4a1f35" stroke-width="0.9"/>
<polygon points="399.4,466.5 406.4,470.5 406.4,502.3 399.4,498.3" fill="#b0cde3" stroke="#1c2c3c" stroke-width="1.0" stroke-linejoin="miter" stroke-miterlimit="3" />
<polygon points="405.8,377 406.4,383.4 415.5,378.2 415.5,507 406.4,502.3" fill="#b0cde3" stroke="#1c2c3c" stroke-width="1.1" stroke-linejoin="miter" stroke-miterlimit="3" />
<polygon points="401.9,374.2 406.3,372.3 415.5,378.2 406.4,383.4 405.8,377" fill="#b0cde3" stroke="#1c2c3c" stroke-width="0.8" stroke-linejoin="miter" stroke-miterlimit="3" />
<polyline points="401.4,490.7 406.4,487.8" fill="none" stroke="#1c2c3c" stroke-width="0.6" stroke-linejoin="round" stroke-linecap="round" />
<polyline points="401.4,492.7 406.4,489.8" fill="none" stroke="#1c2c3c" stroke-width="0.6" stroke-linejoin="round" stroke-linecap="round" />
<polygon points="415.1,377.5 418.9,377.7 422.8,379.6 416.3,382 415.1,381.5" fill="#efc1d7" stroke="none" stroke-width="0.8" stroke-linejoin="miter" stroke-miterlimit="3" />
<polyline points="416,381.7 421.3,384.7" fill="none" stroke="#45283a" stroke-width="0.7" stroke-linejoin="round" stroke-linecap="round" />
<polygon points="396.1,371.8 406.3,366.5 406.3,372.3 401.9,374.1" fill="#efc1d7" stroke="#45283a" stroke-width="0.7" stroke-linejoin="miter" stroke-miterlimit="3" />
<polygon points="406.3,366.5 418.9,369.4 418.9,378.1 406.3,372.3" fill="#efc1d7" stroke="#45283a" stroke-width="0.7" stroke-linejoin="miter" stroke-miterlimit="3" />
<polygon points="418.9,369.4 424.7,366.2 425.2,378.1 422.8,379.6 418.9,378.1" fill="#efc1d7" stroke="#45283a" stroke-width="0.7" stroke-linejoin="miter" stroke-miterlimit="3" />
<polygon points="396.1,393.3 401.4,396.3 401.4,495.6 396.1,497.7" fill="#efc1d7" stroke="#45283a" stroke-width="0.8" stroke-linejoin="miter" stroke-miterlimit="3" />
<polygon points="401.4,396.3 410.2,391.3 410.2,486.3 401.4,490.9" fill="#efc1d7" stroke="#45283a" stroke-width="0.8" stroke-linejoin="miter" stroke-miterlimit="3" />
<polygon points="396.1,393.3 401.4,396.3 410.2,391.3 404.9,388.3" fill="#efc1d7" stroke="#45283a" stroke-width="0.7" stroke-linejoin="miter" stroke-miterlimit="3" />
<ellipse cx="405.9" cy="431.6" rx="2.3" ry="3.9" transform="rotate(30 405.9 431.6)" fill="#efc1d7" stroke="#4a1f35" stroke-width="0.9"/>
<ellipse cx="405.9" cy="443.9" rx="1.3" ry="2.1" transform="rotate(30 405.9 443.9)" fill="#efc1d7" stroke="#4a1f35" stroke-width="0.9"/>
<ellipse cx="405.9" cy="472.4" rx="2.3" ry="3.9" transform="rotate(30 405.9 472.4)" fill="#efc1d7" stroke="#4a1f35" stroke-width="0.9"/>
<ellipse cx="405.9" cy="483.4" rx="2.3" ry="3.9" transform="rotate(30 405.9 483.4)" fill="#efc1d7" stroke="#4a1f35" stroke-width="0.9"/>
<polygon points="379.5,478.1 386.5,482.1 386.5,513.9 379.5,509.9" fill="#b0cde3" stroke="#1c2c3c" stroke-width="1.0" stroke-linejoin="miter" stroke-miterlimit="3" />
<polygon points="385.9,388.6 386.5,395 395.6,389.7 395.6,518.6 386.5,513.9" fill="#b0cde3" stroke="#1c2c3c" stroke-width="1.1" stroke-linejoin="miter" stroke-miterlimit="3" />
<polygon points="382,385.8 386.4,383.9 395.6,389.7 386.5,395 385.9,388.6" fill="#b0cde3" stroke="#1c2c3c" stroke-width="0.8" stroke-linejoin="miter" stroke-miterlimit="3" />
<polyline points="381.5,502.3 386.5,499.4" fill="none" stroke="#1c2c3c" stroke-width="0.6" stroke-linejoin="round" stroke-linecap="round" />
<polyline points="381.5,504.3 386.5,501.4" fill="none" stroke="#1c2c3c" stroke-width="0.6" stroke-linejoin="round" stroke-linecap="round" />
<polygon points="395.2,389.1 399,389.3 402.9,391.2 396.4,393.6 395.2,393.1" fill="#efc1d7" stroke="none" stroke-width="0.8" stroke-linejoin="miter" stroke-miterlimit="3" />
<polyline points="396.1,393.3 401.4,396.3" fill="none" stroke="#45283a" stroke-width="0.7" stroke-linejoin="round" stroke-linecap="round" />
<polygon points="376.2,383.4 386.4,378.1 386.4,383.9 382,385.7" fill="#efc1d7" stroke="#45283a" stroke-width="0.7" stroke-linejoin="miter" stroke-miterlimit="3" />
<polygon points="386.4,378.1 399,381 399,389.7 386.4,383.9" fill="#efc1d7" stroke="#45283a" stroke-width="0.7" stroke-linejoin="miter" stroke-miterlimit="3" />
<polygon points="399,381 404.8,377.8 405.3,389.7 402.9,391.2 399,389.7" fill="#efc1d7" stroke="#45283a" stroke-width="0.7" stroke-linejoin="miter" stroke-miterlimit="3" />
<polygon points="378.6,406.2 381.5,407.8 381.5,507.1 378.6,508.2" fill="#efc1d7" stroke="#45283a" stroke-width="0.8" stroke-linejoin="miter" stroke-miterlimit="3" />
<polygon points="381.5,407.8 390.3,402.8 390.3,497.8 381.5,502.4" fill="#efc1d7" stroke="#45283a" stroke-width="0.8" stroke-linejoin="miter" stroke-miterlimit="3" />
<polygon points="378.6,406.2 381.5,407.8 390.3,402.8 385,399.8" fill="#efc1d7" stroke="#45283a" stroke-width="0.7" stroke-linejoin="miter" stroke-miterlimit="3" />
<ellipse cx="386" cy="443.1" rx="2.3" ry="3.9" transform="rotate(30 386 443.1)" fill="#efc1d7" stroke="#4a1f35" stroke-width="0.9"/>
<ellipse cx="386" cy="455.4" rx="1.3" ry="2.1" transform="rotate(30 386 455.4)" fill="#efc1d7" stroke="#4a1f35" stroke-width="0.9"/>
<ellipse cx="386" cy="483.9" rx="2.3" ry="3.9" transform="rotate(30 386 483.9)" fill="#efc1d7" stroke="#4a1f35" stroke-width="0.9"/>
<ellipse cx="386" cy="494.9" rx="2.3" ry="3.9" transform="rotate(30 386 494.9)" fill="#efc1d7" stroke="#4a1f35" stroke-width="0.9"/>
<polygon points="353.4,403.6 366.5,409.5 366.5,525 353.4,517.8" fill="#b0cde3" stroke="#1c2c3c" stroke-width="1.0" stroke-linejoin="miter" stroke-miterlimit="3" />
<polygon points="366.5,409.5 378.6,402.8 378.6,532 366.5,525" fill="#b0cde3" stroke="#1c2c3c" stroke-width="1.1" stroke-linejoin="miter" stroke-miterlimit="3" />
<polygon points="358.7,399.8 365.5,396 378.6,402.8 366.5,409.5 362.1,403.7" fill="#b0cde3" stroke="#1c2c3c" stroke-width="0.8" stroke-linejoin="miter" stroke-miterlimit="3" />
<polygon points="356.3,394.9 366.5,389.6 366.5,395.4 362.1,397.2" fill="#efc1d7" stroke="#45283a" stroke-width="0.7" stroke-linejoin="miter" stroke-miterlimit="3" />
<polygon points="366.5,389.6 379.1,392.5 379.1,401.2 366.5,395.4" fill="#efc1d7" stroke="#45283a" stroke-width="0.7" stroke-linejoin="miter" stroke-miterlimit="3" />
<polygon points="379.1,392.5 384.9,389.3 385.4,401.2 383,402.7 379.1,401.2" fill="#efc1d7" stroke="#45283a" stroke-width="0.7" stroke-linejoin="miter" stroke-miterlimit="3" />
<polygon points="321.5,409 326.3,406.5 326.3,473.2 321.5,470.8" fill="#efc1d7" stroke="#45283a" stroke-width="0.8" stroke-linejoin="miter" stroke-miterlimit="3" />
<path d="M326.3 397.9 L348.1 411 L348.1 516.7 L340.3 521.6 C337.5 519 337 512 334.5 505.1 C332.5 499.5 329 494 326.3 489.2 Z" fill="#efc1d7" stroke="#45283a" stroke-width="0.9" stroke-linejoin="round" stroke-linecap="round" />
<polygon points="348.1,411 362.1,403.2 362.1,508.3 348.1,516.7" fill="#efc1d7" stroke="#45283a" stroke-width="0.9" stroke-linejoin="miter" stroke-miterlimit="3" />
<polygon points="334.5,402.7 344,397.2 362.1,403.2 348.1,411" fill="#efc1d7" stroke="#45283a" stroke-width="0.7" stroke-linejoin="miter" stroke-miterlimit="3" />
<path d="M337 402.6 L345.5 398.2 Q352 399.5 351.5 403.5 Q350.5 407.5 345.5 408 Z" fill="#efc1d7" stroke="#45283a" stroke-width="0.7" stroke-linejoin="round" stroke-linecap="round" />
<polyline points="334.5,402.7 473.4,322.6" fill="none" stroke="#45283a" stroke-width="0.9" stroke-linejoin="round" stroke-linecap="round" />
<defs><linearGradient id="fade" gradientUnits="userSpaceOnUse" x1="700" y1="626" x2="823" y2="697"><stop offset="0" stop-color="#bdb6dc"/><stop offset="0.42" stop-color="#c6c0e1"/><stop offset="0.8" stop-color="#e8e5f3"/><stop offset="1" stop-color="#ffffff"/></linearGradient><linearGradient id="fadeline" gradientUnits="userSpaceOnUse" x1="809" y1="564" x2="850" y2="588"><stop offset="0" stop-color="#3a3a48"/><stop offset="1" stop-color="#3a3a48" stop-opacity="0"/></linearGradient><linearGradient id="fadeline2" gradientUnits="userSpaceOnUse" x1="697" y1="717" x2="740" y2="741.5"><stop offset="0" stop-color="#3a3a48"/><stop offset="1" stop-color="#3a3a48" stop-opacity="0"/></linearGradient></defs>
<path d="M626.6 618.9 A27.2 15.7 120 0 1 653.8 571.7 L688.4 591.7 A27.2 15.7 120 0 1 661.2 638.9 Z" fill="#bdb6dc" stroke="#2e2b3d" stroke-width="0.9" stroke-linejoin="round" stroke-linecap="round" />
<path d="M628.8 620.1 L627.7 619.4 L626.8 618.6 L626 617.6 L625.2 616.5 L624.6 615.3 L624.1 614 L623.7 612.5 L623.4 611 L623.2 609.4 L623.1 607.7 L623.2 605.9 L623.4 604 L623.7 602.2 L624.1 600.2 L624.6 598.3 L625.2 596.4 L626 594.4 L626.8 592.5 L627.7 590.6 L628.8 588.7 L629.9 586.9 L631.1 585.1 L632.3 583.4 L633.6 581.8 L635 580.3 L636.4 578.9 L637.9 577.5 L639.4 576.4 L640.9 575.3 L642.4 574.3 L643.9 573.5 L645.4 572.9 L646.9 572.4 L648.3 572 L649.7 571.8 L651.1 571.7 L652.4 571.8 L653.7 572.1 L654.9 572.5 L656 573" fill="none" stroke="#2e2b3d" stroke-width="0.7" stroke-linejoin="round" stroke-linecap="round" />
<path d="M648 631.1 L647.2 630.4 L646.5 629.5 L645.8 628.6 L645.2 627.6 L644.7 626.5 L644.3 625.3 L644 624.1 L643.7 622.7 L643.6 621.3 L643.5 619.9 L643.5 618.4 L643.6 616.8 L643.8 615.2 L644.1 613.6 L644.4 611.9 L644.9 610.3 L645.4 608.6 L646 606.9 L646.7 605.2 L647.5 603.6 L648.3 602 L649.2 600.3 L650.1 598.8 L651.1 597.2 L652.2 595.8 L653.3 594.3 L654.5 593 L655.7 591.7 L656.9 590.5 L658.1 589.4 L659.4 588.3 L660.7 587.4 L662 586.5 L663.3 585.8 L664.6 585.1 L665.9 584.6 L667.2 584.1 L668.4 583.8 L669.6 583.6 L670.8 583.5" fill="none" stroke="#2e2b3d" stroke-width="0.6" stroke-linejoin="round" stroke-linecap="round" />
<path d="M650.6 632.6 L649.8 631.9 L649 631 L648.4 630.1 L647.8 629.1 L647.3 628 L646.9 626.8 L646.6 625.6 L646.3 624.2 L646.2 622.8 L646.1 621.4 L646.1 619.9 L646.2 618.3 L646.4 616.7 L646.7 615.1 L647 613.4 L647.5 611.8 L648 610.1 L648.6 608.4 L649.3 606.7 L650.1 605.1 L650.9 603.5 L651.8 601.8 L652.7 600.3 L653.7 598.7 L654.8 597.3 L655.9 595.8 L657.1 594.5 L658.3 593.2 L659.5 592 L660.7 590.9 L662 589.8 L663.3 588.9 L664.6 588 L665.9 587.3 L667.2 586.6 L668.5 586.1 L669.8 585.6 L671 585.3 L672.2 585.1 L673.4 585" fill="none" stroke="#2e2b3d" stroke-width="0.6" stroke-linejoin="round" stroke-linecap="round" />
<path d="M653.2 634.1 L652.4 633.4 L651.6 632.5 L651 631.6 L650.4 630.6 L649.9 629.5 L649.5 628.3 L649.2 627.1 L648.9 625.7 L648.8 624.3 L648.7 622.9 L648.7 621.4 L648.8 619.8 L649 618.2 L649.3 616.6 L649.6 614.9 L650.1 613.3 L650.6 611.6 L651.2 609.9 L651.9 608.2 L652.7 606.6 L653.5 605 L654.4 603.3 L655.3 601.8 L656.3 600.2 L657.4 598.8 L658.5 597.3 L659.7 596 L660.9 594.7 L662.1 593.5 L663.3 592.4 L664.6 591.3 L665.9 590.4 L667.2 589.5 L668.5 588.8 L669.8 588.1 L671.1 587.6 L672.4 587.1 L673.6 586.8 L674.8 586.6 L676 586.5" fill="none" stroke="#2e2b3d" stroke-width="0.6" stroke-linejoin="round" stroke-linecap="round" />
<path d="M642.2 614.5 L643.9 612.8 L646.4 613.8 L650.6 618.4 L649.3 619.6 L644.7 616.7 L642.2 616.2 Z" fill="#bdb6dc" stroke="#2e2b3d" stroke-width="0.6" stroke-linejoin="round" stroke-linecap="round" />
<path d="M663.8 583.7 L666.2 582.3 L669.3 584 L677.7 589.1 L676.4 590.5 L667.6 586.4 L664.5 585.7 Z" fill="#bdb6dc" stroke="#2e2b3d" stroke-width="0.6" stroke-linejoin="round" stroke-linecap="round" />
<polyline points="664.5,594.7 664.5,598.6 669.3,600.6" fill="none" stroke="#2e2b3d" stroke-width="0.6" stroke-linejoin="round" stroke-linecap="round" />
<path d="M663.9 662 A45.9 26.5 120 0 1 709.8 582.5 L735.8 597.5 A45.9 26.5 120 0 1 689.9 677 Z" fill="#bdb6dc" stroke="#2e2b3d" stroke-width="0.8" stroke-linejoin="round" stroke-linecap="round" />
<path d="M670.9 666.1 L669.2 664.9 L667.6 663.5 L666.2 661.9 L665 660 L663.9 658 L663 655.7 L662.3 653.3 L661.8 650.7 L661.5 647.9 L661.4 645 L661.5 642 L661.8 638.9 L662.3 635.8 L663 632.5 L663.9 629.3 L665 626 L666.2 622.7 L667.6 619.4 L669.2 616.2 L670.9 613 L672.8 610 L674.8 607 L676.9 604.1 L679.2 601.4 L681.5 598.8 L683.9 596.4 L686.3 594.2 L688.8 592.2 L691.3 590.4 L693.9 588.8 L696.4 587.5 L699 586.4 L701.5 585.5 L703.9 584.9 L706.3 584.5 L708.6 584.4 L710.9 584.6 L713 585 L715 585.6 L716.8 586.5" fill="none" stroke="#2e2b3d" stroke-width="0.7" stroke-linejoin="round" stroke-linecap="round" />
<path d="M679.6 671.1 L677.9 669.9 L676.3 668.5 L674.9 666.9 L673.6 665 L672.6 663 L671.7 660.7 L671 658.3 L670.5 655.7 L670.2 652.9 L670.1 650 L670.2 647 L670.5 643.9 L671 640.8 L671.7 637.5 L672.6 634.3 L673.6 631 L674.9 627.7 L676.3 624.4 L677.9 621.2 L679.6 618 L681.5 615 L683.5 612 L685.6 609.1 L687.8 606.4 L690.1 603.8 L692.5 601.4 L695 599.2 L697.5 597.2 L700 595.4 L702.6 593.8 L705.1 592.5 L707.6 591.4 L710.1 590.5 L712.6 589.9 L715 589.5 L717.3 589.4 L719.5 589.6 L721.6 590 L723.6 590.6 L725.5 591.5" fill="none" stroke="#2e2b3d" stroke-width="1.2" stroke-linejoin="round" stroke-linecap="round" />
<path d="M684.8 674.1 L683.1 672.9 L681.5 671.5 L680.1 669.9 L678.8 668 L677.8 666 L676.9 663.7 L676.2 661.3 L675.7 658.7 L675.4 655.9 L675.3 653 L675.4 650 L675.7 646.9 L676.2 643.8 L676.9 640.5 L677.8 637.3 L678.8 634 L680.1 630.7 L681.5 627.4 L683.1 624.2 L684.8 621 L686.7 618 L688.7 615 L690.8 612.1 L693 609.4 L695.3 606.8 L697.7 604.4 L700.2 602.2 L702.7 600.2 L705.2 598.4 L707.7 596.8 L710.3 595.5 L712.8 594.4 L715.3 593.5 L717.8 592.9 L720.2 592.5 L722.5 592.4 L724.7 592.6 L726.8 593 L728.8 593.6 L730.7 594.5" fill="none" stroke="#2e2b3d" stroke-width="1.2" stroke-linejoin="round" stroke-linecap="round" />
<path d="M687.7 695 A62.6 36.1 120 0 1 750.3 586.6 L776.3 601.6 A62.6 36.1 120 0 1 713.7 710 Z" fill="#bdb6dc" stroke="#2e2b3d" stroke-width="1.0" stroke-linejoin="round" stroke-linecap="round" />
<path d="M696.4 700 L694 698.4 L691.9 696.5 L689.9 694.3 L688.2 691.8 L686.8 689 L685.6 685.9 L684.6 682.6 L683.9 679 L683.5 675.3 L683.4 671.4 L683.5 667.3 L683.9 663 L684.6 658.7 L685.6 654.3 L686.8 649.9 L688.2 645.4 L689.9 640.9 L691.9 636.4 L694 632 L696.4 627.7 L698.9 623.5 L701.7 619.5 L704.5 615.6 L707.6 611.9 L710.7 608.4 L714 605.1 L717.3 602.1 L720.7 599.3 L724.2 596.9 L727.7 594.7 L731.1 592.8 L734.6 591.3 L738 590.1 L741.3 589.3 L744.6 588.8 L747.8 588.7 L750.8 588.9 L753.7 589.4 L756.4 590.3 L759 591.6" fill="none" stroke="#2e2b3d" stroke-width="0.7" stroke-linejoin="round" stroke-linecap="round" />
<path d="M702.4 703.5 L700.1 701.9 L697.9 700 L696 697.8 L694.3 695.3 L692.8 692.5 L691.6 689.4 L690.7 686.1 L690 682.5 L689.6 678.8 L689.5 674.9 L689.6 670.8 L690 666.5 L690.7 662.2 L691.6 657.8 L692.8 653.4 L694.3 648.9 L696 644.4 L697.9 639.9 L700.1 635.5 L702.4 631.2 L705 627 L707.7 623 L710.6 619.1 L713.6 615.4 L716.8 611.9 L720.1 608.6 L723.4 605.6 L726.8 602.8 L730.3 600.4 L733.7 598.2 L737.2 596.3 L740.7 594.8 L744.1 593.6 L747.4 592.8 L750.7 592.3 L753.8 592.2 L756.9 592.4 L759.7 592.9 L762.5 593.8 L765 595.1" fill="none" stroke="#2e2b3d" stroke-width="1.0" stroke-linejoin="round" stroke-linecap="round" />
<polygon points="697.6,629 755.1,591.3 772.1,581.6 775.1,583.9 809.1,564.2 940,639.8 940,860 697.6,717" fill="url(#fade)" stroke="none"/>
<polyline points="697.6,717 697.6,629 755.1,591.3 772.1,581.6 775.1,583.9 809.1,564.2" fill="none" stroke="#3a3a48" stroke-width="0.9" stroke-linejoin="miter"/>
<path d="M809.1 564.2 L850 587.8" fill="none" stroke="url(#fadeline)" stroke-width="0.8"/>
<path d="M697.6 717 L740 741.5" fill="none" stroke="url(#fadeline2)" stroke-width="0.8"/>
<polyline points="697.6,629 710.5,636" fill="none" stroke="#444" stroke-width="0.6" stroke-linejoin="round" stroke-linecap="round" />
<polygon points="344.4,643.9 377.7,663.2 377.7,725 344.4,705.7" fill="#efc1d7" stroke="#45283a" stroke-width="0.8" stroke-linejoin="miter" stroke-miterlimit="3" />
<polygon points="377.7,663.2 465.1,613.3 465.1,675.1 377.7,725" fill="#efc1d7" stroke="#45283a" stroke-width="0.8" stroke-linejoin="miter" stroke-miterlimit="3" />
<polygon points="344.4,643.9 431.7,593.5 465.1,613.3 377.7,663.2" fill="#efc1d7" stroke="#45283a" stroke-width="0.8" stroke-linejoin="miter" stroke-miterlimit="3" />
<path d="M445.8 640.1 Q446.3 632.6 451.8 629.6 L456.8 627.6 Q463.3 627.1 464.5 634.1 L464.5 651.1 Q463.8 657.1 457.8 660.1 L452.8 661.6 Q446.3 662.6 445.8 656.1 Z" fill="#efc1d7" stroke="#45283a" stroke-width="0.7" stroke-linejoin="round" stroke-linecap="round" />
<path d="M443.6 641.4 Q444.1 633.9 449.6 630.9 L454.6 628.9 Q461.1 628.4 462.3 635.4 L462.3 652.4 Q461.6 658.4 455.6 661.4 L450.6 662.9 Q444.1 663.9 443.6 657.4 Z" fill="#efc1d7" stroke="#45283a" stroke-width="0.8" stroke-linejoin="round" stroke-linecap="round" />
<polyline points="449.6,631 450.1,634.4 456.1,631.9 455.6,629.1" fill="none" stroke="#45283a" stroke-width="0.6" stroke-linejoin="round" stroke-linecap="round" />
<path d="M426.6 651.2 Q427.1 643.7 432.6 640.7 L437.6 638.7 Q444.1 638.2 445.3 645.2 L445.3 662.2 Q444.6 668.2 438.6 671.2 L433.6 672.7 Q427.1 673.7 426.6 667.2 Z" fill="#efc1d7" stroke="#45283a" stroke-width="0.7" stroke-linejoin="round" stroke-linecap="round" />
<path d="M424.4 652.4 Q424.9 644.9 430.4 641.9 L435.4 639.9 Q441.9 639.4 443.1 646.4 L443.1 663.4 Q442.4 669.4 436.4 672.4 L431.4 673.9 Q424.9 674.9 424.4 668.4 Z" fill="#efc1d7" stroke="#45283a" stroke-width="0.8" stroke-linejoin="round" stroke-linecap="round" />
<polyline points="430.4,642 430.9,645.4 436.9,642.9 436.4,640.1" fill="none" stroke="#45283a" stroke-width="0.6" stroke-linejoin="round" stroke-linecap="round" />
<path d="M407.4 662.2 Q407.9 654.8 413.4 651.8 L418.4 649.8 Q424.9 649.2 426.1 656.2 L426.1 673.2 Q425.4 679.2 419.4 682.2 L414.4 683.8 Q407.9 684.8 407.4 678.2 Z" fill="#efc1d7" stroke="#45283a" stroke-width="0.7" stroke-linejoin="round" stroke-linecap="round" />
<path d="M405.2 663.5 Q405.7 656 411.2 653 L416.2 651 Q422.7 650.5 423.9 657.5 L423.9 674.5 Q423.2 680.5 417.2 683.5 L412.2 685 Q405.7 686 405.2 679.5 Z" fill="#efc1d7" stroke="#45283a" stroke-width="0.8" stroke-linejoin="round" stroke-linecap="round" />
<polyline points="411.2,653.1 411.7,656.5 417.7,654 417.2,651.2" fill="none" stroke="#45283a" stroke-width="0.6" stroke-linejoin="round" stroke-linecap="round" />
<path d="M388.2 673.3 Q388.7 665.8 394.2 662.8 L399.2 660.8 Q405.7 660.3 406.9 667.3 L406.9 684.3 Q406.2 690.3 400.2 693.3 L395.2 694.8 Q388.7 695.8 388.2 689.3 Z" fill="#efc1d7" stroke="#45283a" stroke-width="0.7" stroke-linejoin="round" stroke-linecap="round" />
<path d="M386 674.5 Q386.5 667 392 664 L397 662 Q403.5 661.5 404.7 668.5 L404.7 685.5 Q404 691.5 398 694.5 L393 696 Q386.5 697 386 690.5 Z" fill="#efc1d7" stroke="#45283a" stroke-width="0.8" stroke-linejoin="round" stroke-linecap="round" />
<polyline points="392,664.1 392.5,667.5 398.5,665 398,662.2" fill="none" stroke="#45283a" stroke-width="0.6" stroke-linejoin="round" stroke-linecap="round" />
<polyline points="404,691 465,655.8" fill="none" stroke="#45283a" stroke-width="0.5" stroke-linejoin="round" stroke-linecap="round" />
<path d="M452.2 656.7 A9.6 5.5 120 0 1 461.8 640 L468.7 644 A9.6 5.5 120 0 1 459.1 660.7 Z" fill="#b0cde3" stroke="#2b4a66" stroke-width="0.9" stroke-linejoin="round" stroke-linecap="round" />
<ellipse cx="463.9" cy="652.4" rx="5.5" ry="9.6" transform="rotate(30 463.9 652.4)" fill="#b0cde3" stroke="#2b4a66" stroke-width="0.9" />
<path d="M454.9 658.1 L454.6 657.7 L454.4 657.4 L454.2 657 L454 656.6 L453.9 656.2 L453.8 655.7 L453.7 655.2 L453.7 654.7 L453.7 654.1 L453.7 653.6 L453.8 653 L453.8 652.4 L454 651.8 L454.1 651.2 L454.3 650.6 L454.5 650 L454.8 649.4 L455 648.8 L455.3 648.2 L455.7 647.6 L456 647 L456.4 646.4 L456.8 645.9 L457.2 645.4 L457.6 644.9 L458 644.4 L458.5 644 L458.9 643.6 L459.4 643.2 L459.9 642.9 L460.3 642.6 L460.8 642.3 L461.3 642.1 L461.8 641.9 L462.2 641.8 L462.7 641.7 L463.1 641.6 L463.5 641.6 L464 641.6 L464.4 641.7" fill="none" stroke="#2b4a66" stroke-width="0.6" stroke-linejoin="round" stroke-linecap="round" />
<path d="M462.9 655.3 A3.4 2 120 0 1 466.3 649.4 L480.2 657.4 A3.4 2 120 0 1 476.8 663.3 Z" fill="#b0cde3" stroke="#2b4a66" stroke-width="0.9" stroke-linejoin="round" stroke-linecap="round" />
<ellipse cx="478.5" cy="660.4" rx="2" ry="3.4" transform="rotate(30 478.5 660.4)" fill="#b0cde3" stroke="#2b4a66" stroke-width="0.9" />
<path d="M433 667.7 A9.6 5.5 120 0 1 442.6 651.1 L449.5 655.1 A9.6 5.5 120 0 1 439.9 671.7 Z" fill="#b0cde3" stroke="#2b4a66" stroke-width="0.9" stroke-linejoin="round" stroke-linecap="round" />
<ellipse cx="444.7" cy="663.4" rx="5.5" ry="9.6" transform="rotate(30 444.7 663.4)" fill="#b0cde3" stroke="#2b4a66" stroke-width="0.9" />
<path d="M435.7 669.1 L435.4 668.8 L435.2 668.5 L435 668.1 L434.8 667.7 L434.7 667.2 L434.6 666.7 L434.5 666.2 L434.5 665.7 L434.5 665.2 L434.5 664.6 L434.6 664 L434.6 663.5 L434.8 662.9 L434.9 662.2 L435.1 661.6 L435.3 661 L435.6 660.4 L435.8 659.8 L436.1 659.2 L436.5 658.6 L436.8 658.1 L437.2 657.5 L437.6 657 L438 656.4 L438.4 656 L438.8 655.5 L439.3 655 L439.7 654.6 L440.2 654.3 L440.7 653.9 L441.1 653.6 L441.6 653.4 L442.1 653.1 L442.6 653 L443 652.8 L443.5 652.7 L443.9 652.7 L444.3 652.6 L444.8 652.7 L445.2 652.7" fill="none" stroke="#2b4a66" stroke-width="0.6" stroke-linejoin="round" stroke-linecap="round" />
<path d="M443.7 666.3 A3.4 2 120 0 1 447.1 660.5 L461 668.5 A3.4 2 120 0 1 457.6 674.3 Z" fill="#b0cde3" stroke="#2b4a66" stroke-width="0.9" stroke-linejoin="round" stroke-linecap="round" />
<ellipse cx="459.3" cy="671.4" rx="2" ry="3.4" transform="rotate(30 459.3 671.4)" fill="#b0cde3" stroke="#2b4a66" stroke-width="0.9" />
<path d="M413.8 678.8 A9.6 5.5 120 0 1 423.4 662.1 L430.3 666.1 A9.6 5.5 120 0 1 420.7 682.8 Z" fill="#b0cde3" stroke="#2b4a66" stroke-width="0.9" stroke-linejoin="round" stroke-linecap="round" />
<ellipse cx="425.5" cy="674.5" rx="5.5" ry="9.6" transform="rotate(30 425.5 674.5)" fill="#b0cde3" stroke="#2b4a66" stroke-width="0.9" />
<path d="M416.5 680.2 L416.2 679.8 L416 679.5 L415.8 679.1 L415.6 678.7 L415.5 678.3 L415.4 677.8 L415.3 677.3 L415.3 676.8 L415.3 676.2 L415.3 675.7 L415.4 675.1 L415.4 674.5 L415.6 673.9 L415.7 673.3 L415.9 672.7 L416.1 672.1 L416.4 671.5 L416.6 670.9 L416.9 670.3 L417.3 669.7 L417.6 669.1 L418 668.5 L418.4 668 L418.8 667.5 L419.2 667 L419.6 666.5 L420.1 666.1 L420.5 665.7 L421 665.3 L421.5 665 L421.9 664.7 L422.4 664.4 L422.9 664.2 L423.4 664 L423.8 663.9 L424.3 663.8 L424.7 663.7 L425.1 663.7 L425.6 663.7 L426 663.8" fill="none" stroke="#2b4a66" stroke-width="0.6" stroke-linejoin="round" stroke-linecap="round" />
<path d="M424.5 677.4 A3.4 2 120 0 1 427.9 671.5 L441.8 679.5 A3.4 2 120 0 1 438.4 685.4 Z" fill="#b0cde3" stroke="#2b4a66" stroke-width="0.9" stroke-linejoin="round" stroke-linecap="round" />
<ellipse cx="440.1" cy="682.5" rx="2" ry="3.4" transform="rotate(30 440.1 682.5)" fill="#b0cde3" stroke="#2b4a66" stroke-width="0.9" />
<path d="M394.6 689.8 A9.6 5.5 120 0 1 404.2 673.2 L411.1 677.2 A9.6 5.5 120 0 1 401.5 693.8 Z" fill="#b0cde3" stroke="#2b4a66" stroke-width="0.9" stroke-linejoin="round" stroke-linecap="round" />
<ellipse cx="406.3" cy="685.5" rx="5.5" ry="9.6" transform="rotate(30 406.3 685.5)" fill="#b0cde3" stroke="#2b4a66" stroke-width="0.9" />
<path d="M397.3 691.2 L397 690.9 L396.8 690.6 L396.6 690.2 L396.4 689.8 L396.3 689.3 L396.2 688.8 L396.1 688.3 L396.1 687.8 L396.1 687.3 L396.1 686.7 L396.2 686.1 L396.2 685.6 L396.4 685 L396.5 684.3 L396.7 683.7 L396.9 683.1 L397.2 682.5 L397.4 681.9 L397.7 681.3 L398.1 680.7 L398.4 680.2 L398.8 679.6 L399.2 679.1 L399.6 678.5 L400 678.1 L400.4 677.6 L400.9 677.1 L401.3 676.7 L401.8 676.4 L402.3 676 L402.7 675.7 L403.2 675.5 L403.7 675.2 L404.2 675.1 L404.6 674.9 L405.1 674.8 L405.5 674.8 L405.9 674.7 L406.4 674.8 L406.8 674.8" fill="none" stroke="#2b4a66" stroke-width="0.6" stroke-linejoin="round" stroke-linecap="round" />
<path d="M405.3 688.4 A3.4 2 120 0 1 408.7 682.6 L422.6 690.6 A3.4 2 120 0 1 419.2 696.4 Z" fill="#b0cde3" stroke="#2b4a66" stroke-width="0.9" stroke-linejoin="round" stroke-linecap="round" />
<ellipse cx="420.9" cy="693.5" rx="2" ry="3.4" transform="rotate(30 420.9 693.5)" fill="#b0cde3" stroke="#2b4a66" stroke-width="0.9" />
<polygon points="184.3,205.8 204.8,209.4 201.4,211.4 255.1,242.4 259,240 265.5,252.3 245.1,248.6 248.3,246.6 194.5,215.5 191.2,217.3" fill="#fb0606" stroke="#330303" stroke-width="2" stroke-linejoin="miter" stroke-miterlimit="10"/>
<polygon points="805.4,329.4 812.7,340.3 808.5,342.5 808.5,404.8 812.1,402.7 804.9,421.3 798.1,410.7 801.7,408.6 801.7,346.1 798.5,347.7" fill="#fb0606" stroke="#330303" stroke-width="2" stroke-linejoin="miter" stroke-miterlimit="10"/>
<polygon points="765.5,398.2 772.7,387.5 775.2,388.9 829,358.2 826,356.5 845.8,352.8 838.8,363.9 835.8,362.2 782,392.9 784.9,394.5" fill="#fb0606" stroke="#330303" stroke-width="2" stroke-linejoin="miter" stroke-miterlimit="10"/>
<polygon points="776.6,661 783.8,649.9 786.6,651.6 839.7,621 836.9,619.3 856.9,615.1 849.8,627.1 846.1,624.9 793.2,655.4 796.6,657.4" fill="#fb0606" stroke="#330303" stroke-width="2" stroke-linejoin="miter" stroke-miterlimit="10"/>
<polygon points="775.1,614.6 795,618.5 792.1,620.2 846.1,651.2 849.2,649.4 856,660.4 836.1,656.6 839.3,654.9 785.6,624.1 781.8,626.3" fill="#fb0606" stroke="#330303" stroke-width="2" stroke-linejoin="miter" stroke-miterlimit="10"/>
<polygon points="184.3,205.8 204.8,209.4 201.4,211.4 255.1,242.4 259,240 265.5,252.3 245.1,248.6 248.3,246.6 194.5,215.5 191.2,217.3" fill="#fb0606" stroke="none" stroke-width="0" stroke-linejoin="miter" stroke-miterlimit="3" />
<polygon points="805.4,329.4 812.7,340.3 808.5,342.5 808.5,404.8 812.1,402.7 804.9,421.3 798.1,410.7 801.7,408.6 801.7,346.1 798.5,347.7" fill="#fb0606" stroke="none" stroke-width="0" stroke-linejoin="miter" stroke-miterlimit="3" />
<polygon points="765.5,398.2 772.7,387.5 775.2,388.9 829,358.2 826,356.5 845.8,352.8 838.8,363.9 835.8,362.2 782,392.9 784.9,394.5" fill="#fb0606" stroke="none" stroke-width="0" stroke-linejoin="miter" stroke-miterlimit="3" />
<polygon points="776.6,661 783.8,649.9 786.6,651.6 839.7,621 836.9,619.3 856.9,615.1 849.8,627.1 846.1,624.9 793.2,655.4 796.6,657.4" fill="#fb0606" stroke="none" stroke-width="0" stroke-linejoin="miter" stroke-miterlimit="3" />
<polygon points="775.1,614.6 795,618.5 792.1,620.2 846.1,651.2 849.2,649.4 856,660.4 836.1,656.6 839.3,654.9 785.6,624.1 781.8,626.3" fill="#fb0606" stroke="none" stroke-width="0" stroke-linejoin="miter" stroke-miterlimit="3" />
<path d="M539.6 515.1 C536.1 504.7 528.1 499.9 521.7 501.8 C507.3 506.3 499.4 520.6 500.6 531.8 C501.8 543 507.3 549.4 520.1 547 L529.4 552.9 L529 539.8 L514.5 541.7 C509.9 543.3 506.2 539 505.7 531.8 C505.7 522.2 512.1 511.1 522.5 507.1 C529.7 505.5 534.5 508.7 539.6 515.1 Z" fill="#e0231f" stroke="none" stroke-width="0" stroke-linejoin="round" stroke-linecap="round" />
<path d="M623.8 569.4 C621.2 558.9 614.5 554.5 607.8 555.6 C594.5 558.9 584.5 573.4 585.1 586.7 C586 596.7 592.2 603.4 603.4 601.8 L613.8 607.2 L612.9 594.1 L597.8 597.4 C594 597.8 591.8 592.9 591.6 585.6 C591.8 575.6 598.9 564.5 608.9 561.1 C615.6 560 620.1 563.4 623.8 569.4 Z" fill="#e0231f" stroke="none" stroke-width="0" stroke-linejoin="round" stroke-linecap="round" />
<circle cx="628" cy="31.3" r="23.5" fill="#62a894" stroke="#1f3d36" stroke-width="1"/>
<text class="num" font-size="33" text-anchor="middle" stroke="#111" stroke-width="0.7" transform="translate(628.6 42.3) scale(0.9 1)">1</text>
<text class="lbl cj" x="659" y="24.5" font-size="28" letter-spacing="4.5">正轴</text>
<text class="lbl" x="657.5" y="57.2" font-size="29.4" letter-spacing="1.3" word-spacing="-2">Main Spindle</text>
<circle cx="200" cy="797.2" r="26.6" fill="#62a894" stroke="#1f3d36" stroke-width="1"/>
<text class="num" x="202" y="809" font-size="38" text-anchor="middle" stroke="#111" stroke-width="0.9">2</text>
<text class="lbl cj" x="234" y="783.5" font-size="29.5" letter-spacing="1.6">背轴</text>
<text class="lbl" x="233.5" y="820" font-size="33" letter-spacing="1.8" word-spacing="-3">Sub Spindle</text>
<circle cx="241" cy="206" r="17.8" fill="#fff" stroke="#222" stroke-width="0.8"/>
<text class="ax" x="0" y="0" font-size="28" text-anchor="middle" transform="translate(241 215.4) scale(0.74 1)">Z1</text>
<circle cx="813.1" cy="304.9" r="17.9" fill="#fff" stroke="#222" stroke-width="0.8"/>
<text class="ax" x="0" y="0" font-size="28" text-anchor="middle" transform="translate(813.1 314.3) scale(0.74 1)">X1</text>
<circle cx="869" cy="358" r="17.9" fill="#fff" stroke="#222" stroke-width="0.8"/>
<text class="ax" x="0" y="0" font-size="28" text-anchor="middle" transform="translate(869 367.4) scale(0.74 1)">Y1</text>
<circle cx="493.3" cy="572.5" r="18.1" fill="#fff" stroke="#222" stroke-width="0.8"/>
<text class="ax" x="0" y="0" font-size="28" text-anchor="middle" transform="translate(493.3 581.9) scale(0.74 1)">C1</text>
<circle cx="594" cy="640.6" r="18.4" fill="#fff" stroke="#222" stroke-width="0.8"/>
<text class="ax" x="0" y="0" font-size="28" text-anchor="middle" transform="translate(594 650) scale(0.74 1)">C2</text>
<circle cx="875.3" cy="602" r="17.9" fill="#fff" stroke="#222" stroke-width="0.8"/>
<text class="ax" x="0" y="0" font-size="28" text-anchor="middle" transform="translate(875.3 611.4) scale(0.74 1)">X2</text>
<circle cx="870.5" cy="678.6" r="17.9" fill="#fff" stroke="#222" stroke-width="0.8"/>
<text class="ax" x="0" y="0" font-size="28" text-anchor="middle" transform="translate(870.5 688) scale(0.74 1)">Z2</text>
</svg>
</body>
</html>
